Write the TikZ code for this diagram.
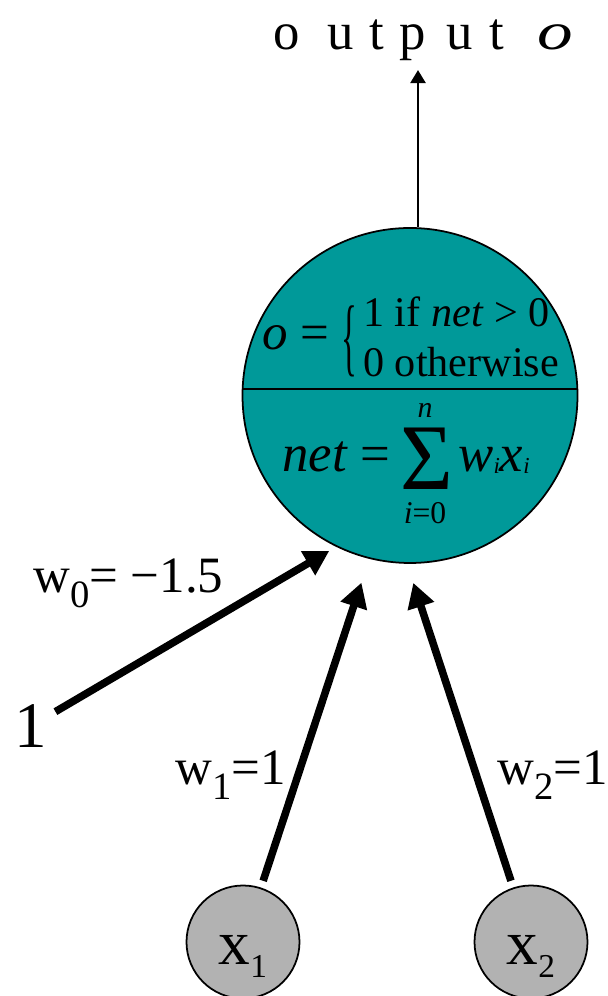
\documentclass[tikz,border=0pt]{standalone}
\usepackage{fontspec}
\setmainfont{Liberation Serif}
\usepackage{graphicx}
\usepackage{tikz}
\usetikzlibrary{arrows.meta, positioning}
\definecolor{UnitTeal}{HTML}{009999}
\definecolor{InGray}{HTML}{B2B2B2}
\newcommand{\lowsub}[3]{\raisebox{-#1}{\fontsize{#2}{#2}\selectfont #3}}

\begin{document}
\begin{tikzpicture}[
    unit/.style={circle, minimum size=6.7cm, draw=black, line width=1pt, fill=UnitTeal, inner sep=0pt},
    innode/.style={circle, minimum size=2.26cm, draw=black, line width=1pt, fill=InGray, inner sep=0pt,
        font=\fontsize{36}{36}\selectfont, text height=30pt, text depth=4pt},
    wire/.style={line width=4.3pt, -{Triangle[length=14pt, width=15pt]}},
    outwire/.style={line width=1.7pt, -{Triangle[length=7.5pt, width=8.5pt]}},
    wlabel/.style={anchor=base west, inner sep=0pt, font=\fontsize{29}{29}\selectfont},
    eqtext/.style={anchor=base west, inner sep=0pt}
]
\useasboundingbox (0,0) rectangle (12.14,19.92);

% Threshold unit
\node[unit] (neuron) at (8.2, 12.01) {};
\draw[line width=0.85pt] ([yshift=0.13cm]neuron.west) -- ([yshift=0.13cm]neuron.east);

% Upper half: output rule
\node[eqtext, font=\fontsize{29}{29}\selectfont] (oeq) at (5.24, 12.92) {\textit{o} =};
\node[inner sep=0pt, font=\fontsize{24}{24}\selectfont] (brace) at (6.98, 13.1)
    {\resizebox{9pt}{34pt}{\{}};
\node[eqtext, font=\fontsize{24}{28}\selectfont] (cases) at (7.26, 13.38)
    {\begin{tabular}[t]{@{}l@{}}1 if \textit{net} > 0\\0 otherwise\end{tabular}};

% Lower half: weighted sum
\node[eqtext, font=\fontsize{30}{30}\selectfont] (net) at (5.64, 10.48) {\textit{net} =};
\node[inner sep=0pt] (sigma) at (8.53, 10.74) {\resizebox{30pt}{35pt}{Σ}};
\node[anchor=base, inner sep=0pt, font=\fontsize{17}{17}\selectfont] (upper) at (8.5, 11.56) {\textit{n}};
\node[anchor=base, inner sep=0pt, font=\fontsize{18}{18}\selectfont] (lower) at (8.5, 9.44) {\textit{i}=0};
\node[eqtext, font=\fontsize{30}{30}\selectfont] (wx) at (9.16, 10.48)
    {\textit{w}\lowsub{1pt}{13}{\textit{i}}\textit{x}\lowsub{1pt}{13}{\textit{i}}};

% Output
\coordinate (outtip) at (8.36, 18.52);
\draw[outwire] ([xshift=0.16cm]neuron.north) -- (outtip);
\node[eqtext, font=\fontsize{30}{30}\selectfont] (outlabel) at (5.46, 18.92)
    {o\hspace{15.6pt}u\hspace{9.4pt}t\hspace{8.7pt}p\hspace{11.6pt}u\hspace{9.4pt}t\hspace{19pt}\scalebox{1.35}[1]{\textit{o}}};

% Inputs
\node[inner sep=2pt, font=\fontsize{37}{37}\selectfont] (one) at (0.62, 5.4) {1};
\node[innode] (x1) at (4.86, 1.08) {x\lowsub{7.4pt}{19}{1}};
\node[innode] (x2) at (10.62, 1.08) {x\lowsub{7.4pt}{19}{2}};

\draw[wire, shorten <=0.1cm, shorten >=0.16cm] (one) -- (neuron.-116);
\draw[wire, shorten <=0.14cm, shorten >=0.5cm] (x1) -- (neuron.-104);
\draw[wire, shorten <=0.14cm, shorten >=0.4cm] (x2) -- (neuron.-91);

% Weights
\node[wlabel] (w0) at (0.66, 8.06) {w\lowsub{8.5pt}{22}{0}= −1.5};
\node[wlabel] (w1) at (3.5, 4.22) {w\lowsub{8.5pt}{22}{1}=1};
\node[wlabel] (w2) at (9.94, 4.22) {w\lowsub{8.5pt}{22}{2}=1};
\end{tikzpicture}
\end{document}
